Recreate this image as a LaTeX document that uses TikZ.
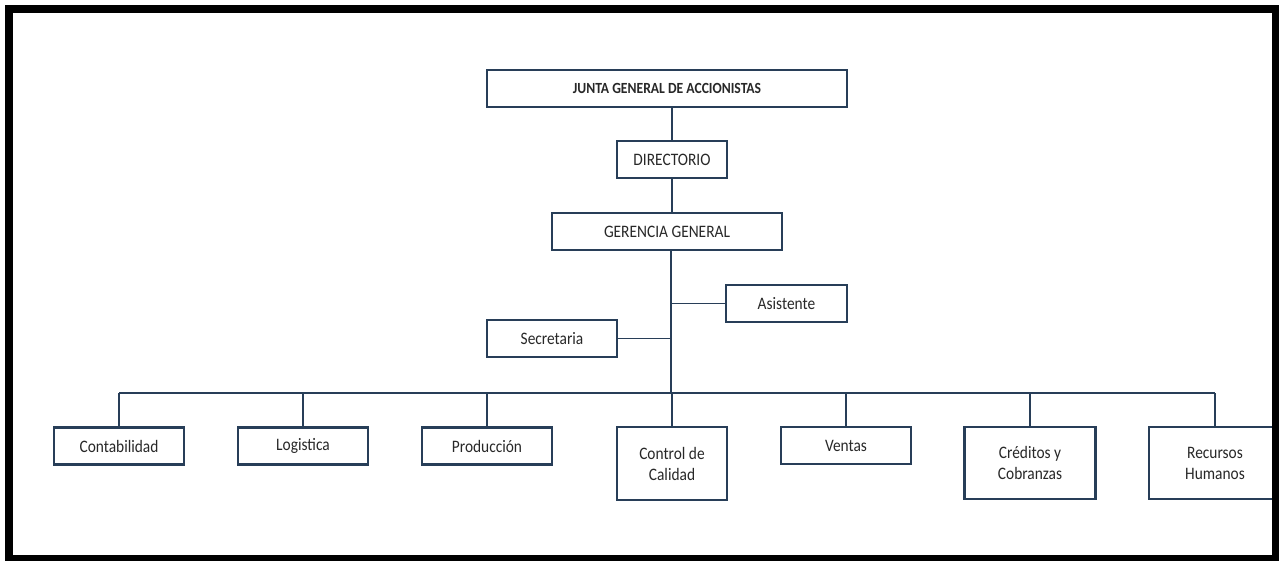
\documentclass[tikz,border=0pt]{standalone}
\usepackage{fontspec}
\setmainfont{Carlito}[FakeStretch=0.88]
\usepackage{xcolor}
\usetikzlibrary{positioning}
\definecolor{orgline}{RGB}{40,62,88}
\definecolor{orgtext}{RGB}{40,40,40}
\tikzstyle{unit}=[draw=orgline,line width=2.6pt,fill=white,rectangle,text=orgtext,align=center,minimum height=37pt,inner sep=2pt]
\tikzstyle{link}=[draw=orgline,line width=2.4pt]
\tikzstyle{sidelink}=[draw=orgline,line width=1.4pt]

\begin{document}
\begin{tikzpicture}[x=1pt,y=-1pt,font=\fontsize{17.5}{21}\selectfont]
    \useasboundingbox (0,0) rectangle (1279,560);
    \fill[white] (0,0) rectangle (1279,560);

    \node[unit, minimum width=360pt, font=\fontsize{15.5}{18.5}\selectfont\bfseries] (junta) at (667,88.5) {JUNTA GENERAL DE ACCIONISTAS};
    \node[unit, minimum width=110pt] (dir) at (672,159.5) {DIRECTORIO};
    \node[unit, minimum width=230pt] (ger) at (667,231.5) {GERENCIA GENERAL};
    \node[unit, minimum width=121pt] (asis) at (786.5,303.5) {Asistente};
    \node[unit, minimum width=130pt] (secr) at (552,338.5) {Secretaria};
    \coordinate (bus) at (671,393);

    \node[unit, minimum width=130pt] (conta) at (119,446) {Contabilidad};
    \node[unit, minimum width=130pt] (logi) at (303,446) {Logistica};
    \node[unit, minimum width=130pt] (prod) at (487,446) {Producción};
    \node[unit, minimum width=110pt, minimum height=73pt] (ctrl) at (672,463.5) {Control de\\Calidad};
    \node[unit, minimum width=130pt] (ventas) at (846,445.5) {Ventas};
    \node[unit, minimum width=131pt, minimum height=72pt] (cred) at (1030,463) {Créditos y\\Cobranzas};
    \node[unit, minimum width=132pt, minimum height=72pt] (recur) at (1215,463) {Recursos\\Humanos};

    \draw[link] (dir.north) -- (dir.north |- junta.south);
    \draw[link] (dir.south) -- (dir.south |- ger.north);
    \draw[link] (ger.south -| bus) -- (bus);
    \draw[sidelink] (asis.west) -- (asis.west -| bus);
    \draw[sidelink] (secr.east) -- (secr.east -| bus);
    \draw[link] (conta.north |- bus) -- (recur.north |- bus);
    \draw[link] (conta.north) -- (conta.north |- bus);
    \draw[link] (logi.north) -- (logi.north |- bus);
    \draw[link] (prod.north) -- (prod.north |- bus);
    \draw[link] (ctrl.north) -- (ctrl.north |- bus);
    \draw[link] (ventas.north) -- (ventas.north |- bus);
    \draw[link] (cred.north) -- (cred.north |- bus);
    \draw[link] (recur.north) -- (recur.north |- bus);

    \draw[black, line width=8pt] (9,9) rectangle (1276,559);
\end{tikzpicture}
\end{document}
